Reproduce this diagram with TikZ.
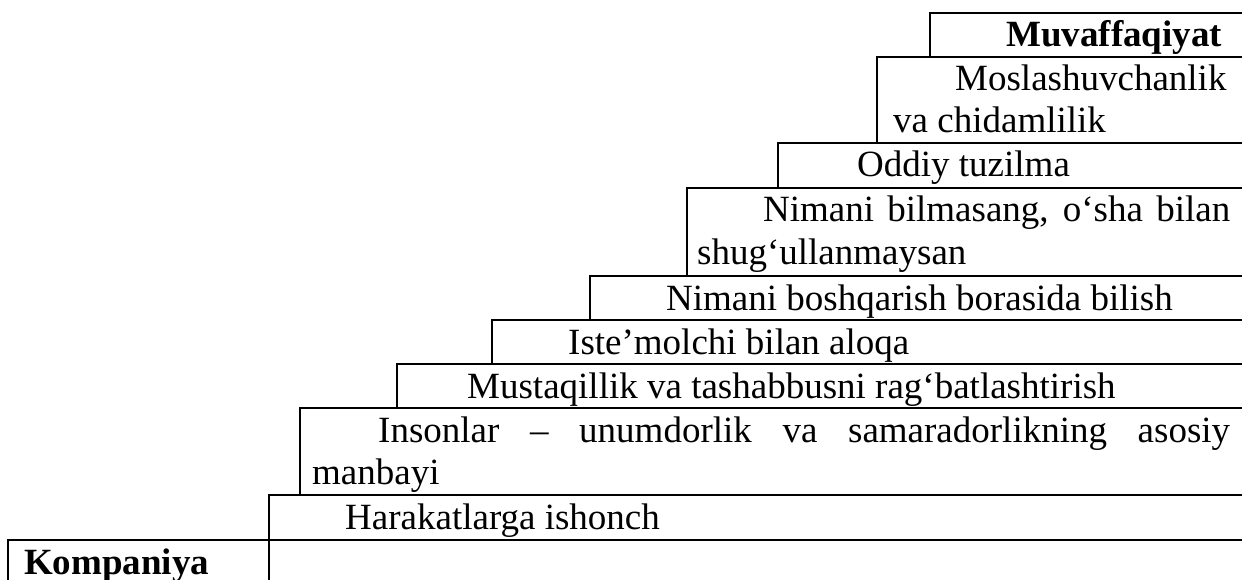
\documentclass[tikz,border=0pt]{standalone}
\usepackage{fontspec}
\setmainfont{Liberation Serif}
\begin{document}
\begin{tikzpicture}[x=1pt,y=-1pt,
  rule/.style={line width=2.5pt, line join=miter},
  txt/.style={anchor=base west, inner sep=0pt, font=\fontsize{37}{42.5}\selectfont, align=left},
  btxt/.style={txt, font=\fontsize{37}{42.5}\selectfont\bfseries}]
\useasboundingbox (0,0) rectangle (1242,580);
% steps: left x, top y, bottom y
\draw[rule] (930,57) -- (930,13) -- (1242,13);
\draw[rule] (877,143) -- (877,57) -- (1242,57);
\draw[rule] (778,188) -- (778,143) -- (1242,143);
\draw[rule] (687,276) -- (687,188) -- (1242,188);
\draw[rule] (590,320) -- (590,276) -- (1242,276);
\draw[rule] (492,364) -- (492,320) -- (1242,320);
\draw[rule] (397,408) -- (397,364) -- (1242,364);
\draw[rule] (300,495) -- (300,408) -- (1242,408);
\draw[rule] (269,580) -- (269,495) -- (1242,495);
\draw[rule] (8,580) -- (8,540) -- (1242,540);
% texts
\node[btxt] (muv) at (1006,47) {Muvaffaqiyat};
\node[txt] (mos) at (955,91) {Moslashuvchanlik};
\node[txt] (mos2) at (893,133) {va chidamlilik};
\node[txt] (odd) at (857,177) {Oddiy tuzilma};
\node[txt] (nbm) at (763,222) {\makebox[467pt][s]{Nimani bilmasang, o‘sha bilan}};
\node[txt] (nbm2) at (697,264) {shug‘ullanmaysan};
\node[txt] (nbb) at (666,310) {Nimani boshqarish borasida bilish};
\node[txt] (ist) at (568,354) {Iste’molchi bilan aloqa};
\node[txt] (mus) at (467,398) {Mustaqillik va tashabbusni rag‘batlashtirish};
\node[txt] (ins) at (378,442) {\makebox[852pt][s]{Insonlar – unumdorlik va samaradorlikning asosiy}};
\node[txt] (ins2) at (312,484) {manbayi};
\node[txt] (har) at (345,529) {Harakatlarga ishonch};
\node[btxt] (komp) at (24,574) {Kompaniya};
\end{tikzpicture}
\end{document}
